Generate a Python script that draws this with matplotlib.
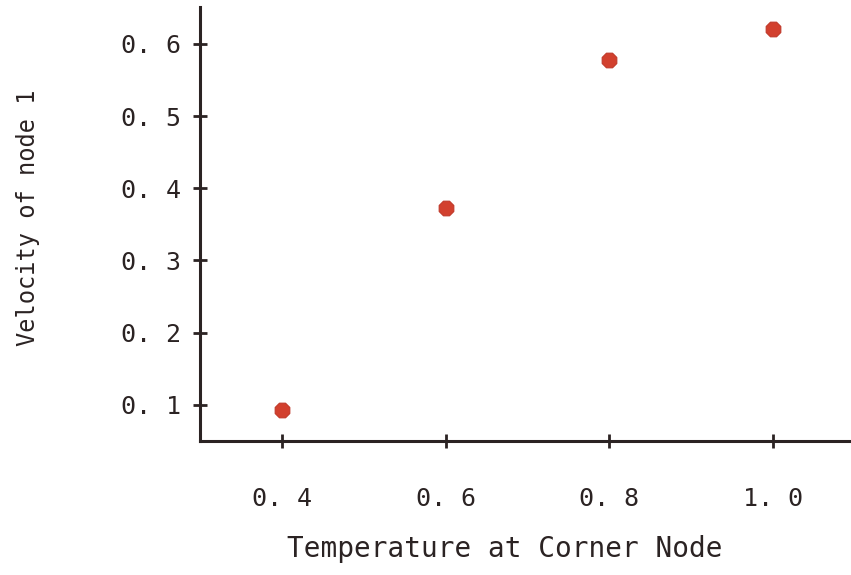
import matplotlib
matplotlib.use("Agg")
import matplotlib.pyplot as plt

# Measured velocity of node 1 against corner-node temperature
temperature = [0.4, 0.6, 0.8, 1.0]
velocity = [0.093, 0.372, 0.578, 0.621]

x_ticks = [0.4, 0.6, 0.8, 1.0]
x_tick_labels = ["0. 4", "0. 6", "0. 8", "1. 0"]
y_ticks = [0.1, 0.2, 0.3, 0.4, 0.5, 0.6]
y_tick_labels = ["0. 1", "0. 2", "0. 3", "0. 4", "0. 5", "0. 6"]

ink = "#2b2323"
plt.rcParams["font.family"] = ["DejaVu Sans Mono"]

fig = plt.figure(figsize=(8.51, 5.75), dpi=100)
ax = fig.add_axes([200 / 851, 134 / 575, 651 / 851, 434 / 575])

ax.scatter(temperature, velocity, s=130, marker="8", color="#d2402e",
           edgecolors="#c03828", linewidths=0.8, zorder=3)

ax.set_xlim(0.3, 1.095)
ax.set_ylim(0.05, 0.651)

ax.set_xticks(x_ticks)
ax.set_xticklabels(x_tick_labels)
ax.set_yticks(y_ticks)
ax.set_yticklabels(y_tick_labels)

for side in ("top", "right"):
    ax.spines[side].set_visible(False)
for side in ("left", "bottom"):
    ax.spines[side].set_color(ink)
    ax.spines[side].set_linewidth(2.2)

ax.tick_params(axis="both", direction="inout", length=10, width=2.0,
               color=ink, labelcolor=ink, labelsize=18)
ax.tick_params(axis="x", pad=28)
ax.tick_params(axis="y", pad=9)

ax.set_xlabel("Temperature at Corner Node", fontsize=20, color=ink)
ax.set_ylabel("Velocity of node 1", fontsize=17, color=ink)
ax.xaxis.set_label_coords((505 - 200) / 651, -(535 - 441) / 434)
ax.yaxis.set_label_coords(-(200 - 40) / 651, (441 - 218) / 434)

fig.savefig("out.png", dpi=100, facecolor="white")
